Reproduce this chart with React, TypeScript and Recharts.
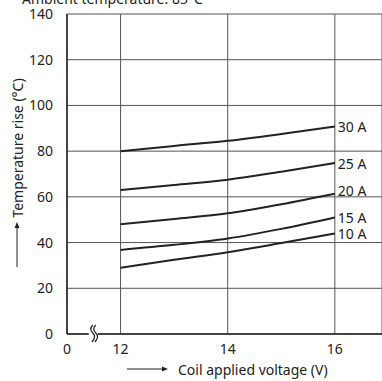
import React from "react";
import {
  CartesianGrid,
  Line,
  LineChart,
  ReferenceDot,
  XAxis,
  YAxis,
} from "recharts";

// x = 11 is drawn as "0" (broken axis between 0 and 12)
const voltages = [12, 13, 14, 15, 16];
const xTicks = [11, 12, 14, 16];
const yTicks = [0, 20, 40, 60, 80, 100, 120, 140];

const rise30A = [80, 82.3, 84.5, 87.5, 90.8];
const rise25A = [63, 65.2, 67.5, 71, 74.8];
const rise20A = [48, 50.3, 52.8, 56.8, 61.4];
const rise15A = [36.8, 39, 41.8, 46, 51];
const rise10A = [29, 32.5, 35.8, 39.8, 44];

const seriesNames = ["30 A", "25 A", "20 A", "15 A", "10 A"];
const seriesKeys = ["a30", "a25", "a20", "a15", "a10"];
const labelShift = [0, 0, -3, 0, 0];

const data = voltages.map((v, i) => ({
  v,
  a30: rise30A[i],
  a25: rise25A[i],
  a20: rise20A[i],
  a15: rise15A[i],
  a10: rise10A[i],
}));

const FONT = "'Noto Sans', sans-serif";
const INK = "#222";

const endLabel = (name: string, shift: number) => (props: any) => {
  if (props.index !== voltages.length - 1) return null;
  return (
    <text
      x={props.x + 3}
      y={props.y + shift}
      dominantBaseline="central"
      fontSize={14}
      fontFamily={FONT}
      fill={INK}
    >
      {name}
    </text>
  );
};

const BreakMark = (props: any) => {
  const { cx, cy } = props;
  return (
    <g>
      <rect x={cx - 5} y={cy - 2} width={9} height={4} fill="#fff" />
      <path
        d={`M${cx - 1} ${cy - 9} q-4 4 0 8 q4 4 -1 9`}
        fill="none"
        stroke={INK}
        strokeWidth={1.2}
      />
      <path
        d={`M${cx + 2} ${cy - 9} q-4 4 0 8 q4 4 -1 9`}
        fill="none"
        stroke={INK}
        strokeWidth={1.2}
      />
    </g>
  );
};

const XTitle = () => {
  const y = 369;
  const x0 = 127;
  return (
    <g>
      <line x1={x0} y1={y} x2={x0 + 38} y2={y} stroke={INK} strokeWidth={1} />
      <path d={`M${x0 + 41} ${y} l-6 -2.5 v5 z`} fill={INK} />
      <text x={x0 + 51} y={y} dominantBaseline="central" fontSize={14} fontFamily={FONT} fill={INK}>
        Coil applied voltage (V)
      </text>
    </g>
  );
};

const YTitle = () => {
  const x = 17;
  return (
    <g>
      <text
        x={x}
        y={148}
        transform={`rotate(-90 ${x} 148)`}
        textAnchor="middle"
        dominantBaseline="central"
        fontSize={14}
        fontFamily={FONT}
        fill={INK}
      >
        Temperature rise (°C)
      </text>
      <line x1={x} y1={267} x2={x} y2={226} stroke={INK} strokeWidth={1} />
      <path d={`M${x} 222 l-2.5 6 h5 z`} fill={INK} />
    </g>
  );
};

export default function App() {
  return (
    <div style={{ position: "absolute", left: 0, top: 0, width: 382, height: 381, background: "#fff" }}>
      <LineChart
        width={382}
        height={381}
        data={data}
        margin={{ top: 14, right: 0, left: 0, bottom: 17 }}
      >
        <text x={22} y={4} fontSize={14} fontFamily={FONT} fill={INK}>
          Ambient temperature: 85°C
        </text>
        <CartesianGrid stroke="#555" strokeWidth={1} />
        <XAxis
          dataKey="v"
          type="number"
          domain={[11, 16.88]}
          ticks={xTicks}
          height={30}
          allowDataOverflow
          tickFormatter={(t: number) => (t === 11 ? "0" : String(t))}
          tickLine={false}
          axisLine={{ stroke: INK, strokeWidth: 1.5 }}
          tick={{ fontSize: 14, fontFamily: FONT, fill: INK }}
          tickMargin={4}
          label={<XTitle />}
        />
        <YAxis
          type="number"
          domain={[0, 140]}
          ticks={yTicks}
          width={67}
          tickLine={false}
          axisLine={{ stroke: INK, strokeWidth: 1.5 }}
          tick={{ fontSize: 14, fontFamily: FONT, fill: INK }}
          tickMargin={8}
          label={<YTitle />}
        />
        {seriesKeys.map((k, i) => (
          <Line
            key={k}
            dataKey={k}
            type="monotone"
            stroke={INK}
            strokeWidth={2}
            dot={false}
            isAnimationActive={false}
            label={endLabel(seriesNames[i], labelShift[i])}
          />
        ))}
        <ReferenceDot x={11.5} y={0} ifOverflow="visible" shape={<BreakMark />} />
      </LineChart>
    </div>
  );
}
